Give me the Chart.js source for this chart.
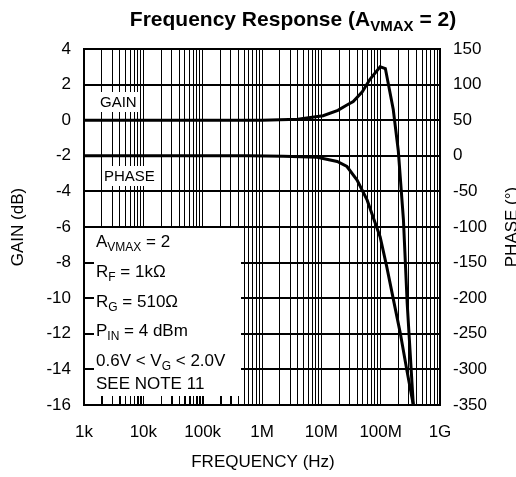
<!DOCTYPE html>
<html>
<head>
<meta charset="utf-8">
<script src="https://cdn.jsdelivr.net/npm/chart.js@4.4.0/dist/chart.umd.min.js"></script>
<style>
  html, body { margin: 0; padding: 0; background: #fff; }
</style>
</head>
<body>
<canvas id="freq-chart" width="516" height="477"></canvas>
<script>
// frequency axis (Hz, log)
var tickDecades = [1e3, 1e4, 1e5, 1e6, 1e7, 1e8, 1e9];
var tickLabels = ['1k', '10k', '100k', '1M', '10M', '100M', '1G'];

// gain (left axis, dB)
var gainFreq = [1e3, 1e6, 4e6, 1.07e7, 1.9e7, 2.7e7, 3.45e7, 4.9e7, 6.6e7, 9.8e7, 1.2e8, 1.63e8, 1.98e8, 2.42e8, 2.8e8, 3.55e8];
var gainDb   = [0, 0, 0.05, 0.25, 0.55, 0.85, 1.05, 1.6, 2.3, 3.0, 2.9, 0.6, -1.7, -5.6, -10.3, -16];

// phase (right axis, degrees)
var phaseFreq = [1e3, 6e5, 2.3e6, 8.5e6, 1.85e7, 2.7e7, 4e7, 5.9e7, 7.6e7, 9.8e7, 1.26e8, 1.65e8, 2.14e8, 2.76e8, 3.55e8];
var phaseDeg  = [0, 0, -0.5, -2, -8, -15, -34, -62, -88, -114, -155, -203, -249, -301, -350];

var FONT = '"Liberation Sans", Arial, sans-serif';

// grid values 1..9 per decade
var gridValues = [];
for (var e = 3; e < 9; e++) {
    for (var k = 1; k < 10; k++) gridValues.push(k * Math.pow(10, e));
}
gridValues.push(1e9);

function toPoints(xs, ys) {
    return xs.map(function (v, i) { return { x: v, y: ys[i] }; });
}

// draws text runs, some of them as subscript
function drawRuns(ctx, runs, x, y, size, bold) {
    var w = 0;
    runs.forEach(function (r) {
        var s = r[1] ? Math.round(size * 0.72) : size;
        ctx.font = (bold ? 'bold ' : '') + s + 'px ' + FONT;
        ctx.fillText(r[0], x + w, y + (r[1] ? size * 0.25 : 0));
        w += ctx.measureText(r[0]).width;
    });
    return w;
}
function runsWidth(ctx, runs, size, bold) {
    var w = 0;
    runs.forEach(function (r) {
        var s = r[1] ? Math.round(size * 0.72) : size;
        ctx.font = (bold ? 'bold ' : '') + s + 'px ' + FONT;
        w += ctx.measureText(r[0]).width;
    });
    return w;
}

var overlay = {
    id: 'overlay',
    beforeDatasetsDraw: function (chart) {
        var ctx = chart.ctx, a = chart.chartArea;
        var xs = chart.scales.x, ys = chart.scales.y;
        ctx.save();
        // white note box, lower left
        var boxTop = ys.getPixelForValue(-6) + 1;
        var boxRight = 241;
        var boxBottom = a.bottom - 9;
        ctx.fillStyle = '#fff';
        ctx.fillRect(a.left, boxTop, boxRight - a.left, boxBottom - boxTop);
        ctx.strokeStyle = '#000';
        ctx.lineWidth = 1;
        gridValues.forEach(function (v) {
            var px = Math.round(xs.getPixelForValue(v)) + 0.5;
            if (px > a.left + 2 && px < boxRight) {
                ctx.beginPath();
                ctx.moveTo(px, boxBottom);
                ctx.lineTo(px, a.bottom);
                ctx.stroke();
            }
        });
        ctx.lineWidth = 2;
        [-8, -10, -12, -14].forEach(function (v) {
            var py = Math.round(ys.getPixelForValue(v));
            ctx.beginPath();
            ctx.moveTo(a.left, py);
            ctx.lineTo(a.left + 10, py);
            ctx.stroke();
        });

        // curve labels
        ctx.fillStyle = '#fff';
        ctx.fillRect(98, 92, 41, 20);
        ctx.fillRect(103, 166, 50, 20);
        ctx.fillStyle = '#000';
        ctx.font = '15px ' + FONT;
        ctx.textBaseline = 'middle';
        ctx.fillText('GAIN', 100, 103);
        ctx.fillText('PHASE', 104, 177);

        // frame
        ctx.lineWidth = 2;
        ctx.strokeRect(a.left, a.top, a.right - a.left, a.bottom - a.top);
        ctx.restore();
    },
    afterDraw: function (chart) {
        var ctx = chart.ctx;
        ctx.save();
        ctx.fillStyle = '#000';
        ctx.textBaseline = 'alphabetic';

        // title
        var title = [['Frequency Response (A', false], ['VMAX', true], [' = 2)', false]];
        var tw = runsWidth(ctx, title, 21, true);
        drawRuns(ctx, title, 293 - tw / 2, 26, 21, true);

        // note box text
        var lines = [
            [['A', false], ['VMAX', true], [' = 2', false]],
            [['R', false], ['F', true], [' = 1k\u03A9', false]],
            [['R', false], ['G', true], [' = 510\u03A9', false]],
            [['P', false], ['IN', true], [' = 4 dBm', false]],
            [['0.6V < V', false], ['G', true], [' < 2.0V', false]],
            [['SEE NOTE 11', false]]
        ];
        var base = [247, 277, 307, 336, 366, 389];
        lines.forEach(function (l, i) { drawRuns(ctx, l, 96, base[i], 17, false); });

        // axis titles
        ctx.font = '17px ' + FONT;
        ctx.textAlign = 'center';
        ctx.textBaseline = 'middle';
        ctx.fillText('FREQUENCY (Hz)', 263, 462);
        ctx.save();
        ctx.translate(18, 227);
        ctx.rotate(-Math.PI / 2);
        ctx.fillText('GAIN (dB)', 0, 0);
        ctx.restore();
        ctx.save();
        ctx.translate(512, 227);
        ctx.rotate(-Math.PI / 2);
        ctx.fillText('PHASE (\u00B0)', 0, 0);
        ctx.restore();
        ctx.restore();
    }
};

var ctx = document.getElementById('freq-chart').getContext('2d');
var myChart = new Chart(ctx, {
    type: 'line',
    data: {
        datasets: [
            {
                label: 'Gain',
                data: toPoints(gainFreq, gainDb),
                yAxisID: 'y',
                borderColor: '#000',
                borderWidth: 3,
                pointRadius: 0,
                tension: 0
            },
            {
                label: 'Phase',
                data: toPoints(phaseFreq, phaseDeg),
                yAxisID: 'y2',
                borderColor: '#000',
                borderWidth: 3,
                pointRadius: 0,
                tension: 0
            }
        ]
    },
    options: {
        responsive: false,
        animation: false,
        layout: { padding: { top: 49, left: 0, right: 0, bottom: 0 } },
        plugins: {
            legend: { display: false },
            title: { display: false },
            tooltip: { enabled: false }
        },
        scales: {
            x: {
                type: 'logarithmic',
                min: 1e3,
                max: 1e9,
                afterBuildTicks: function (scale) {
                    scale.ticks = gridValues.map(function (v) { return { value: v }; });
                },
                afterFit: function (scale) { scale.height = 72; },
                grid: { color: '#000', lineWidth: 1, drawTicks: false },
                border: { display: false },
                ticks: {
                    autoSkip: false,
                    maxRotation: 0,
                    minRotation: 0,
                    padding: 17,
                    color: '#000',
                    font: { family: FONT, size: 17 },
                    callback: function (value) {
                        var i = tickDecades.findIndex(function (d) { return Math.abs(d - value) < d * 1e-6; });
                        return i >= 0 ? tickLabels[i] : '';
                    }
                }
            },
            y: {
                position: 'left',
                min: -16,
                max: 4,
                afterFit: function (scale) { scale.width = 84; },
                grid: { color: '#000', lineWidth: 2, drawTicks: false },
                border: { display: false },
                ticks: {
                    stepSize: 2,
                    padding: 13,
                    color: '#000',
                    font: { family: FONT, size: 17 }
                }
            },
            y2: {
                position: 'right',
                min: -350,
                max: 150,
                afterFit: function (scale) { scale.width = 76; },
                grid: { drawOnChartArea: false, drawTicks: false },
                border: { display: false },
                ticks: {
                    stepSize: 50,
                    padding: 13,
                    color: '#000',
                    font: { family: FONT, size: 17 }
                }
            }
        }
    },
    plugins: [overlay]
});
</script>
</body>
</html>
